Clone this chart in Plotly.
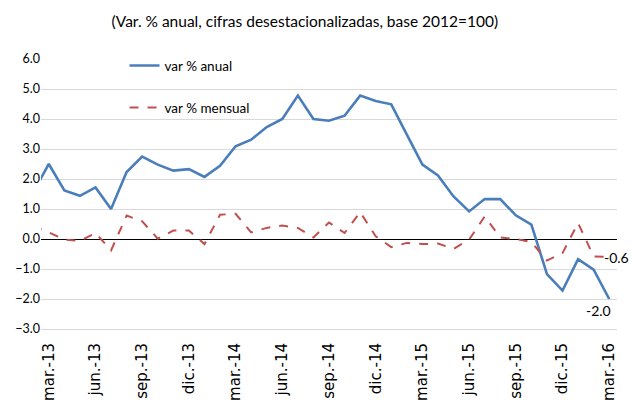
import plotly.graph_objects as go

# periodos mensuales (feb.-13 queda recortado por el borde izquierdo, como en el original)
periodos = [
    "feb.-13", "mar.-13", "abr.-13", "may.-13", "jun.-13", "jul.-13", "ago.-13",
    "sep.-13", "oct.-13", "nov.-13", "dic.-13", "ene.-14", "feb.-14", "mar.-14",
    "abr.-14", "may.-14", "jun.-14", "jul.-14", "ago.-14", "sep.-14", "oct.-14",
    "nov.-14", "dic.-14", "ene.-15", "feb.-15", "mar.-15", "abr.-15", "may.-15",
    "jun.-15", "jul.-15", "ago.-15", "sep.-15", "oct.-15", "nov.-15", "dic.-15",
    "ene.-16", "feb.-16", "mar.-16",
]

var_anual = [
    1.56, 2.5, 1.62, 1.44, 1.72, 1.0, 2.23, 2.75, 2.48, 2.28, 2.33, 2.07, 2.44,
    3.09, 3.31, 3.73, 4.0, 4.78, 4.0, 3.94, 4.11, 4.78, 4.6, 4.49, 3.48, 2.48,
    2.12, 1.42, 0.92, 1.33, 1.33, 0.79, 0.48, -1.17, -1.72, -0.67, -1.02, -2.0,
]

var_mensual = [
    0.43, 0.22, -0.02, -0.06, 0.2, -0.38, 0.78, 0.59, 0.01, 0.28, 0.28, -0.17,
    0.81, 0.84, 0.22, 0.37, 0.45, 0.37, 0.05, 0.55, 0.2, 0.9, 0.09, -0.27, -0.13,
    -0.17, -0.15, -0.33, -0.02, 0.75, 0.05, 0.0, -0.1, -0.72, -0.47, 0.53, -0.58,
    -0.6,
]

ticks_x = periodos[1::3]
ticks_y = [-3, -2, -1, 0, 1, 2, 3, 4, 5, 6]

FONT = "Lato, sans-serif"

fig = go.Figure()
fig.add_trace(go.Scatter(
    x=periodos, y=var_anual, mode="lines", name="var % anual", showlegend=True,
    line=dict(color="#4A7EBB", width=2.6), legend="legend",
))
fig.add_trace(go.Scatter(
    x=periodos, y=var_mensual, mode="lines", name="var % mensual", showlegend=True,
    line=dict(color="#C0504D", width=2, dash="dash"), legend="legend2",
))

fig.add_annotation(x=periodos[-1], y=var_mensual[-1], text=f"{var_mensual[-1]:.1f}",
                   showarrow=False, xanchor="left", yanchor="middle", xshift=-7,
                   font=dict(family=FONT, size=14, color="#000000"))
fig.add_annotation(x=periodos[-1], y=var_anual[-1], text=f"{var_anual[-1]:.1f}",
                   showarrow=False, xanchor="center", yanchor="top", xshift=-11, yshift=-1,
                   font=dict(family=FONT, size=14, color="#000000"))

leg_style = dict(xanchor="left", yanchor="middle", bgcolor="rgba(0,0,0,0)", itemwidth=30,
                 font=dict(family=FONT, size=13.5, color="#000000"))

# the page body adds an 8px offset, so the figure is 8px smaller on each side
fig.update_layout(
    width=629, height=399,
    margin=dict(l=33, r=20, t=51, b=78, autoexpand=False),
    paper_bgcolor="white", plot_bgcolor="white",
    title=dict(text="(Var. % anual, cifras desestacionalizadas, base 2012=100)",
               x=0.472, xanchor="center", y=0.967, yanchor="middle",
               font=dict(family=FONT, size=15.5, color="#000000")),
    legend=dict(x=0.145, y=0.975, **leg_style),
    legend2=dict(x=0.145, y=0.82, **leg_style),
    xaxis=dict(type="category", range=[0.5, 37.5], tickmode="array", tickvals=ticks_x,
               ticktext=ticks_x, tickangle=-90, showgrid=False,
               ticks="outside", ticklen=7, tickcolor="rgba(0,0,0,0)",
               showline=True, linecolor="#d9d9d9",
               tickfont=dict(family="DejaVu Sans, sans-serif", size=15, color="#000000")),
    yaxis=dict(range=[-3, 6], tickvals=ticks_y, tickformat=".1f", showgrid=True,
               gridcolor="#d9d9d9", gridwidth=1, zeroline=True, zerolinecolor="#000000",
               zerolinewidth=1.2, ticks="",
               tickfont=dict(family=FONT, size=12.5, color="#000000")),
)

fig.write_html("out.html")
